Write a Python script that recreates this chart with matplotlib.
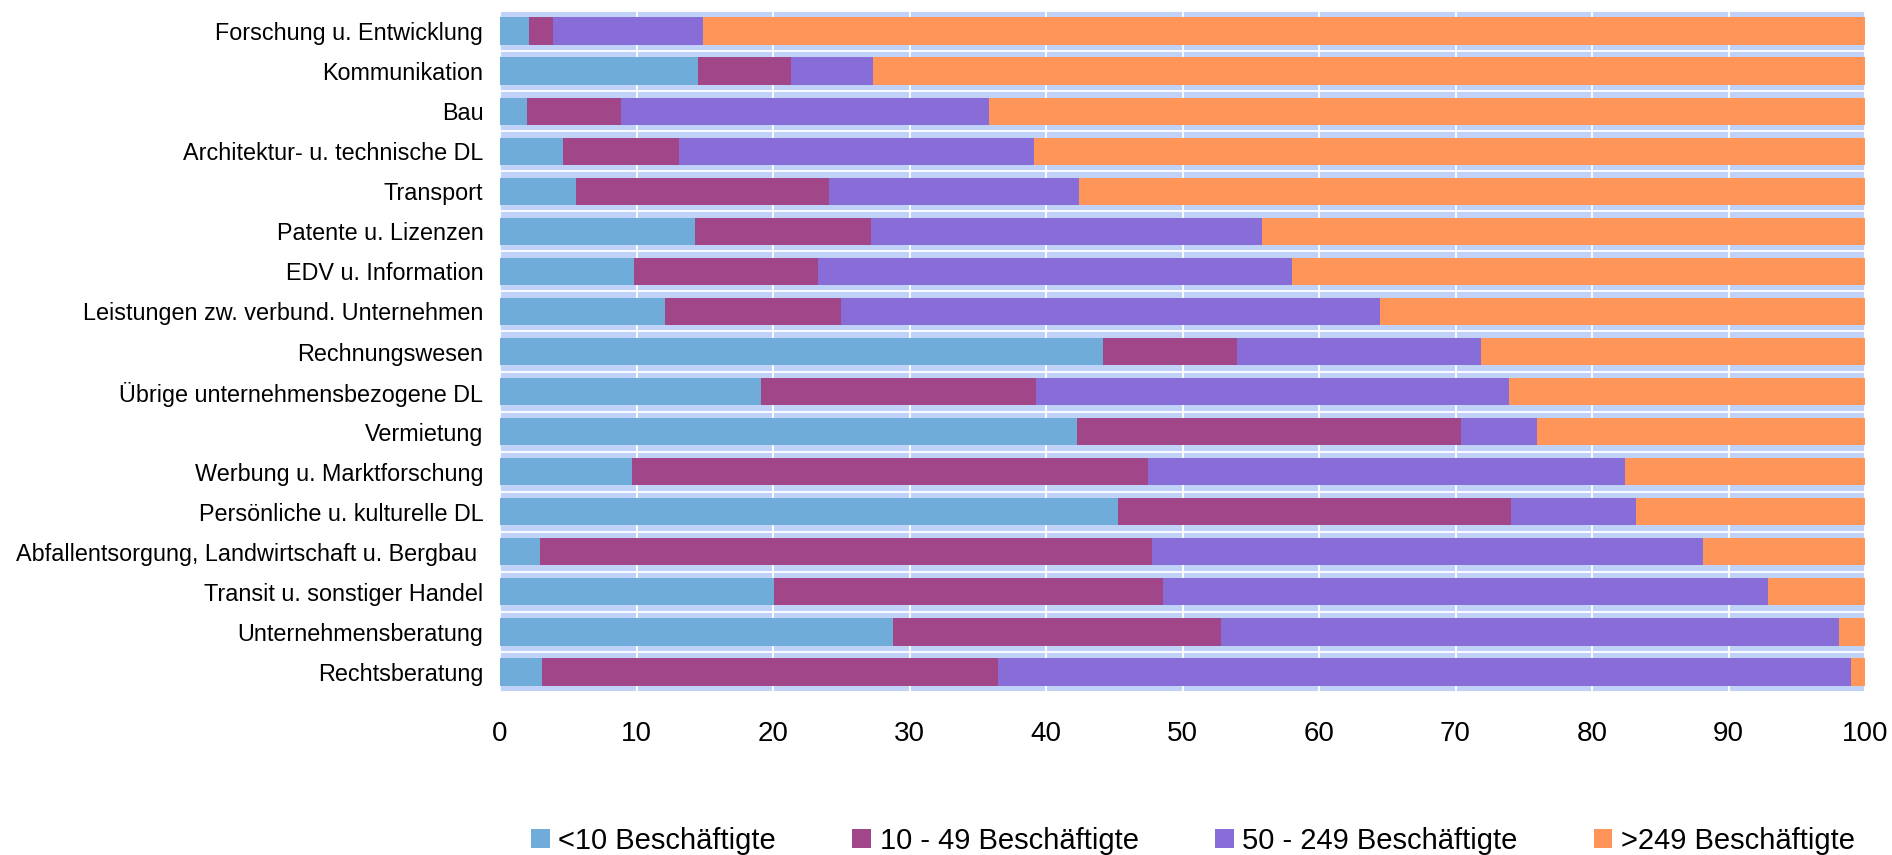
import numpy as np
import matplotlib
matplotlib.use("Agg")
import matplotlib.pyplot as plt

plt.rcParams['font.family'] = ['Liberation Sans', 'DejaVu Sans']

# branches, top to bottom
categories = [
    "Forschung u. Entwicklung",
    "Kommunikation",
    "Bau",
    "Architektur- u. technische DL",
    "Transport",
    "Patente u. Lizenzen",
    "EDV u. Information",
    "Leistungen zw. verbund. Unternehmen",
    "Rechnungswesen",
    "Übrige unternehmensbezogene DL",
    "Vermietung",
    "Werbung u. Marktforschung",
    "Persönliche u. kulturelle DL",
    "Abfallentsorgung, Landwirtschaft u. Bergbau ",
    "Transit u. sonstiger Handel",
    "Unternehmensberatung",
    "Rechtsberatung",
]

# shares in percent per size class
lt10 = [2.1, 14.5, 2.0, 4.6, 5.6, 14.3, 9.8, 12.1, 44.2, 19.1, 42.3, 9.7, 45.3, 2.9, 20.1, 28.8, 3.1]
s10_49 = [1.8, 6.8, 6.9, 8.5, 18.5, 12.9, 13.5, 12.9, 9.8, 20.2, 28.1, 37.8, 28.8, 44.9, 28.5, 24.0, 33.4]
s50_249 = [11.0, 6.0, 26.9, 26.0, 18.3, 28.6, 34.7, 39.5, 17.9, 34.6, 5.6, 34.9, 9.1, 40.3, 44.3, 45.3, 62.5]
gt249 = [85.1, 72.7, 64.2, 60.9, 57.6, 44.2, 42.0, 35.5, 28.1, 26.1, 24.0, 17.6, 16.8, 11.9, 7.1, 1.9, 1.0]

series = [lt10, s10_49, s50_249, gt249]
labels = ["<10 Beschäftigte", "10 - 49 Beschäftigte", "50 - 249 Beschäftigte", ">249 Beschäftigte"]
colors = ["#70acda", "#a2468a", "#886cd8", "#ff9558"]

fig = plt.figure(figsize=(18.92, 8.55), dpi=100)
ax = fig.add_axes([500 / 1892, 1 - 692 / 855, 1365 / 1892, 681 / 855])
ax.set_facecolor("#c0d2f8")

y = np.arange(len(categories))
left = np.zeros(len(categories))
for vals, lab, col in zip(series, labels, colors):
    vals = np.array(vals)
    ax.barh(y, vals, left=left, height=0.68, color=col, label=lab, zorder=3)
    left += vals

ax.set_xlim(0, 100)
ax.set_ylim(len(categories) - 0.5, -0.5)
ax.set_xticks(np.arange(0, 101, 10))
ax.set_yticks(y)
ax.set_yticklabels(categories, fontsize=16.8)
ax.set_yticks(np.arange(-0.5, len(categories), 1), minor=True)
ax.tick_params(axis="x", labelsize=20, length=0, pad=21)
ax.tick_params(axis="y", which="both", length=0, pad=12)
ax.grid(axis="x", color="white", linewidth=1.3, zorder=1)
ax.grid(axis="y", which="minor", color="white", linewidth=1.3, zorder=1)
ax.grid(axis="y", which="major", visible=False)
ax.set_axisbelow(True)
for s in ax.spines.values():
    s.set_visible(False)

fig.legend(loc="center", bbox_to_anchor=(1193 / 1892, 1 - 841 / 855), ncol=4,
           frameon=False, fontsize=21, handlelength=0.65, handleheight=0.65,
           handletextpad=0.3, columnspacing=2.6)

fig.savefig("out.png", dpi=100)
